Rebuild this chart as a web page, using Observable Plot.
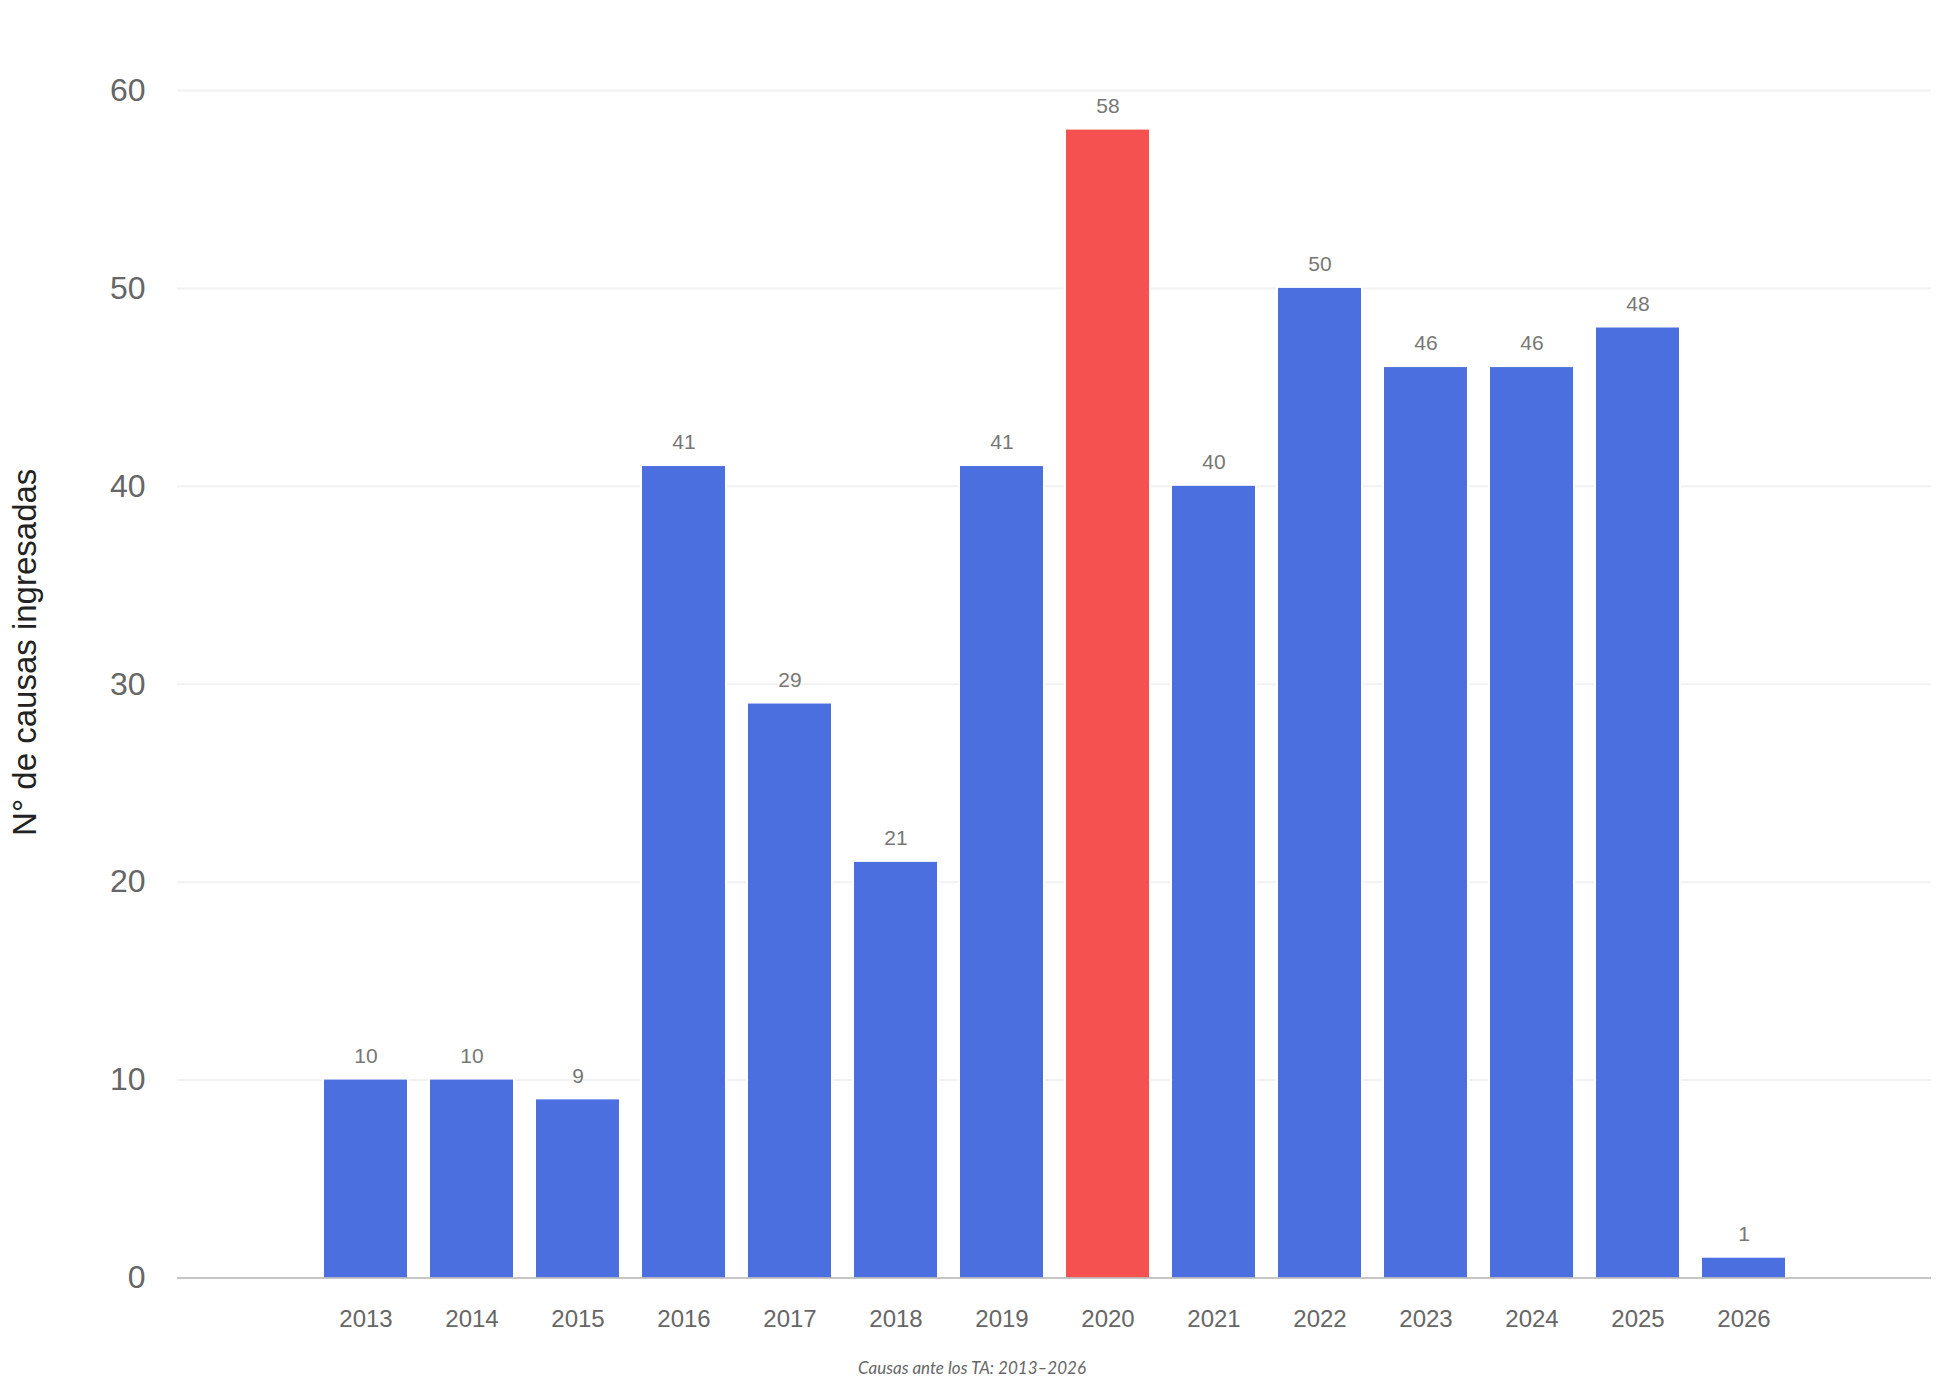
<!DOCTYPE html>
<html>
<head>
<meta charset="utf-8">
<script src="https://cdn.jsdelivr.net/npm/d3@7"></script>
<script src="https://cdn.jsdelivr.net/npm/@observablehq/plot@0.6"></script>
<style>
  html, body { margin: 0; padding: 0; background: #fff; }
  #chart svg { display: block; }
  #caption {
    width: 1944px; text-align: center; margin-top: 18px;
    font: italic 17px/20px Lato, "Open Sans", sans-serif; color: #666;
  }
</style>
</head>
<body>
<div id="chart"></div>
<div id="caption"></div>
<script>
const years = [2013, 2014, 2015, 2016, 2017, 2018, 2019, 2020, 2021, 2022, 2023, 2024, 2025, 2026];
const counts = [10, 10, 9, 41, 29, 21, 41, 58, 40, 50, 46, 46, 48, 1];
const highlightYear = 2020;
const yTicks = [0, 10, 20, 30, 40, 50, 60];
const yLabel = "N° de causas ingresadas";
const captionText = "Causas ante los TA: 2013–2026";

const barColor = "#4c6fe0";
const highlightColor = "#f65151";

const data = years.map((y, i) => ({year: String(y), value: counts[i], hi: y === highlightYear}));

const chart = Plot.plot({
  width: 1944,
  height: 1340,
  marginTop: 90,
  marginBottom: 62.5,
  marginLeft: 177,
  marginRight: 13,
  style: {fontFamily: "'Liberation Sans', Arial, sans-serif", color: "#666", background: "#fff"},
  x: {domain: years.map(String), paddingInner: 0.217, paddingOuter: 1.38, label: null},
  y: {domain: [0, 60], label: null},
  marks: [
    Plot.ruleY(yTicks.filter(d => d > 0), {stroke: "#f2f2f2", strokeWidth: 2}),
    Plot.barY(data, {x: "year", y: "value", fill: "#fff", insetLeft: -2, insetRight: -2, insetTop: -2}),
    Plot.barY(data, {x: "year", y: "value", fill: d => d.hi ? highlightColor : barColor}),
    Plot.ruleY([0], {stroke: "#b3b3b3", strokeWidth: 1.5}),
    Plot.text(data, {x: "year", y: "value", text: d => String(d.value), dy: -24, fontSize: 21, fill: "#777"}),
    Plot.axisY({ticks: yTicks, tickSize: 0, tickPadding: 32, fontSize: 32, fill: "#666", label: null}),
    Plot.axisX({tickSize: 0, tickPadding: 32, fontSize: 24, fill: "#666", label: null}),
    Plot.text([yLabel], {frameAnchor: "left", textAnchor: "middle", text: d => d, rotate: -90, dx: -152, dy: -32, fontSize: 33, fill: "#222"})
  ]
});
document.getElementById("chart").appendChild(chart);
document.getElementById("caption").textContent = captionText;
</script>
</body>
</html>
